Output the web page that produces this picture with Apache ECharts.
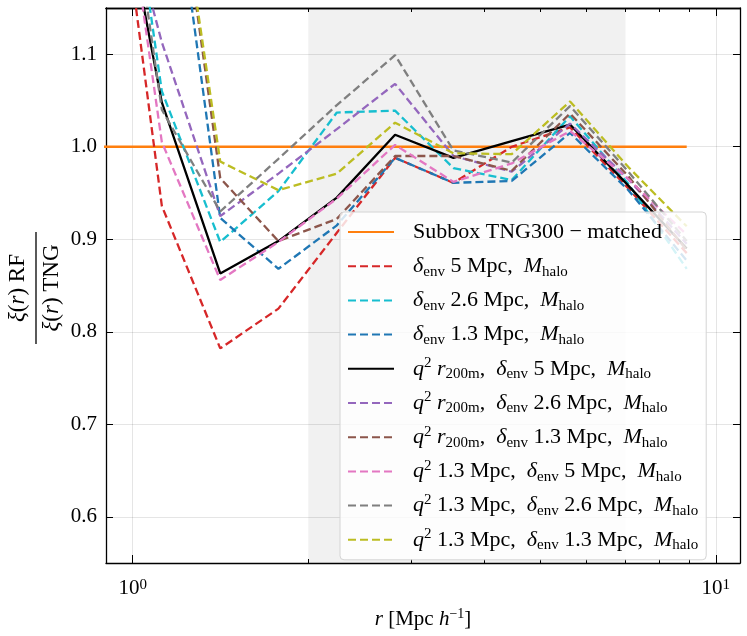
<!DOCTYPE html>
<html>
<head>
<meta charset="utf-8">
<script src="https://cdn.jsdelivr.net/npm/echarts@6/dist/echarts.min.js"></script>
<style>
  html, body { margin: 0; padding: 0; background: #fff; }
  #chart { width: 747px; height: 636px; }
</style>
</head>
<body>
<div id="chart"></div>
<script>
// separation r [Mpc/h], 0.1 dex bins
var radii = [0.891, 1.122, 1.413, 1.778, 2.239, 2.818, 3.548, 4.467, 5.623, 7.079, 8.913];

var matched      = [1, 1, 1, 1, 1, 1, 1, 1, 1, 1, 1];
var env5         = [1.42, 0.936, 0.782, 0.825, 0.907, 0.988, 0.961, 1.000, 1.021, 0.955, 0.885];
var env26        = [1.50, 1.060, 0.897, 0.952, 1.037, 1.039, 0.977, 0.964, 1.033, 0.960, 0.868];
var env13        = [1.90, 1.390, 0.923, 0.868, 0.915, 0.988, 0.961, 0.963, 1.015, 0.953, 0.877];
var r200Env5     = [1.38, 1.048, 0.863, 0.898, 0.945, 1.013, 0.988, 1.006, 1.024, 0.958, 0.890];
var r200Env26    = [1.35, 1.113, 0.925, 0.971, 1.019, 1.068, 0.990, 0.973, 1.025, 0.965, 0.895];
var r200Env13    = [1.90, 1.420, 0.966, 0.898, 0.922, 0.990, 0.990, 0.974, 1.036, 0.968, 0.888];
var q13Env5      = [1.45, 1.005, 0.856, 0.897, 0.944, 1.002, 0.962, 0.982, 1.017, 0.965, 0.905];
var q13Env26     = [1.48, 1.040, 0.930, 0.987, 1.045, 1.099, 0.996, 0.983, 1.044, 0.973, 0.898];
var q13Env13     = [1.90, 1.410, 0.984, 0.953, 0.971, 1.026, 0.993, 0.992, 1.049, 0.978, 0.914];

var seriesNames = [
  'Subbox TNG300 - matched',
  'denv 5, Mhalo', 'denv 2.6, Mhalo', 'denv 1.3, Mhalo',
  'q2 r200m, denv 5, Mhalo', 'q2 r200m, denv 2.6, Mhalo', 'q2 r200m, denv 1.3, Mhalo',
  'q2 1.3, denv 5, Mhalo', 'q2 1.3, denv 2.6, Mhalo', 'q2 1.3, denv 1.3, Mhalo'
];
var seriesLabels = [
  'Subbox TNG300 − matched',
  '{i|δ}{sub|env} 5 Mpc,  {i|M}{sub|halo}',
  '{i|δ}{sub|env} 2.6 Mpc,  {i|M}{sub|halo}',
  '{i|δ}{sub|env} 1.3 Mpc,  {i|M}{sub|halo}',
  '{i|q}{sup|2} {i|r}{sub|200m},  {i|δ}{sub|env} 5 Mpc,  {i|M}{sub|halo}',
  '{i|q}{sup|2} {i|r}{sub|200m},  {i|δ}{sub|env} 2.6 Mpc,  {i|M}{sub|halo}',
  '{i|q}{sup|2} {i|r}{sub|200m},  {i|δ}{sub|env} 1.3 Mpc,  {i|M}{sub|halo}',
  '{i|q}{sup|2} 1.3 Mpc,  {i|δ}{sub|env} 5 Mpc,  {i|M}{sub|halo}',
  '{i|q}{sup|2} 1.3 Mpc,  {i|δ}{sub|env} 2.6 Mpc,  {i|M}{sub|halo}',
  '{i|q}{sup|2} 1.3 Mpc,  {i|δ}{sub|env} 1.3 Mpc,  {i|M}{sub|halo}'
];
var seriesValues = [matched, env5, env26, env13, r200Env5, r200Env26, r200Env13, q13Env5, q13Env26, q13Env13];
var seriesColors = ['#ff7f0e', '#d62728', '#17becf', '#1f77b4', '#000000', '#9467bd', '#8c564b', '#e377c2', '#7f7f7f', '#bcbd22'];
var seriesDashed = [false, true, true, true, false, true, true, true, true, true];

var yTicks = [0.6, 0.7, 0.8, 0.9, 1.0, 1.1];
var xMajor = [1, 10];
var xMinor = [2, 3, 4, 5, 6, 7, 8, 9];
var shadeRange = [2, 7];

var FONT = 'Liberation Serif';
var richMath = {
  i: { fontFamily: FONT, fontStyle: 'italic', fontSize: 22, lineHeight: 26 },
  sub: { fontFamily: FONT, fontSize: 15, lineHeight: 14, verticalAlign: 'bottom' },
  sup: { fontFamily: FONT, fontSize: 15, lineHeight: 14, verticalAlign: 'top' }
};

var myChart = echarts.init(document.getElementById('chart'));

var series = seriesNames.map(function (name, k) {
  var s = {
    name: name,
    type: 'line',
    symbol: 'none',
    clip: true,
    data: radii.map(function (r, j) { return [r, seriesValues[k][j]]; }),
    lineStyle: {
      color: seriesColors[k],
      width: 2.3,
      type: seriesDashed[k] ? [8, 4] : 'solid'
    },
    itemStyle: { color: seriesColors[k] }
  };
  if (k === 0) {
    s.markArea = {
      silent: true,
      itemStyle: { color: 'rgba(0,0,0,0.055)' },
      data: [[{ xAxis: shadeRange[0] }, { xAxis: shadeRange[1] }]]
    };
  }
  return s;
});

function logAxis(pos, withLabels, ticks, len, grid) {
  return {
    type: 'log',
    logBase: 10,
    min: 0.9,
    max: 11,
    position: pos,
    axisLine: { show: withLabels || pos === 'top', lineStyle: { color: '#000', width: 1.3 } },
    axisTick: { show: true, inside: true, length: len, customValues: ticks, lineStyle: { color: '#000', width: 1 } },
    axisLabel: {
      show: withLabels,
      customValues: xMajor,
      margin: 15,
      formatter: function (v) { return '10{sup|' + Math.round(Math.log10(v)) + '}'; },
      fontFamily: FONT, fontSize: 21, color: '#000',
      rich: { sup: { fontFamily: FONT, fontSize: 15, lineHeight: 14, verticalAlign: 'top' } }
    },
    splitLine: { show: grid, lineStyle: { color: 'rgba(0,0,0,0.1)', width: 1 } },
    name: withLabels ? '{i|r} [Mpc {i|h}{sup|−1}]' : '',
    nameLocation: 'middle',
    nameGap: 44,
    nameTextStyle: { fontFamily: FONT, fontSize: 21, color: '#000', lineHeight: 24, rich: {
      i: { fontFamily: FONT, fontStyle: 'italic', fontSize: 21, lineHeight: 24 },
      sup: { fontFamily: FONT, fontSize: 14, lineHeight: 13, verticalAlign: 'top' }
    } }
  };
}

function valAxis(pos, withLabels) {
  return {
    type: 'value',
    min: 0.55,
    max: 1.15,
    position: pos,
    axisLine: { show: true, lineStyle: { color: '#000', width: 1.3 } },
    axisTick: { show: true, inside: true, length: 7, customValues: yTicks, lineStyle: { color: '#000', width: 1 } },
    axisLabel: {
      show: withLabels, customValues: yTicks, margin: 9,
      formatter: function (v) { return v.toFixed(1); },
      fontFamily: FONT, fontSize: 21, color: '#000'
    },
    splitLine: { show: withLabels, lineStyle: { color: 'rgba(0,0,0,0.1)', width: 1 } }
  };
}

var option = {
  animation: false,
  backgroundColor: '#fff',
  grid: { left: 106, right: 7, top: 8, bottom: 66 },
  xAxis: [
    logAxis('bottom', true, xMajor, 8, true),
    logAxis('bottom', false, xMinor, 4, false),
    logAxis('top', false, xMajor, 8, false),
    logAxis('top', false, xMinor, 4, false)
  ],
  yAxis: [valAxis('left', true), valAxis('right', false)],
  legend: {
    orient: 'vertical',
    left: 340,
    top: 212,
    itemWidth: 46,
    itemHeight: 14,
    itemGap: 8.2,
    padding: [7, 8, 7, 7],
    backgroundColor: 'rgba(255,255,255,0.82)',
    borderColor: '#d4d4d4',
    borderWidth: 1,
    borderRadius: 4,
    itemStyle: { opacity: 0 },
    data: seriesNames,
    formatter: function (name) { return seriesLabels[seriesNames.indexOf(name)]; },
    textStyle: { fontFamily: FONT, fontSize: 22, lineHeight: 26, color: '#000', padding: [0, 0, 0, 14], rich: richMath }
  },
  graphic: [{
    type: 'group',
    x: 36,
    y: 288,
    rotation: Math.PI / 2,
    children: [
      { type: 'text', x: 0, y: -18, style: {
        text: '{i|ξ}({i|r}) RF',
        rich: { i: { fontFamily: FONT, fontStyle: 'italic', fontSize: 23 } },
        font: '23px "Liberation Serif"', fill: '#000', align: 'center', verticalAlign: 'middle' } },
      { type: 'line', shape: { x1: -56, y1: 0, x2: 56, y2: 0 }, style: { stroke: '#000', lineWidth: 1.3 } },
      { type: 'text', x: 0, y: 16, style: {
        text: '{i|ξ}({i|r}) TNG',
        rich: { i: { fontFamily: FONT, fontStyle: 'italic', fontSize: 23 } },
        font: '23px "Liberation Serif"', fill: '#000', align: 'center', verticalAlign: 'middle' } }
    ]
  }],
  series: series
};

myChart.setOption(option);
</script>
</body>
</html>
